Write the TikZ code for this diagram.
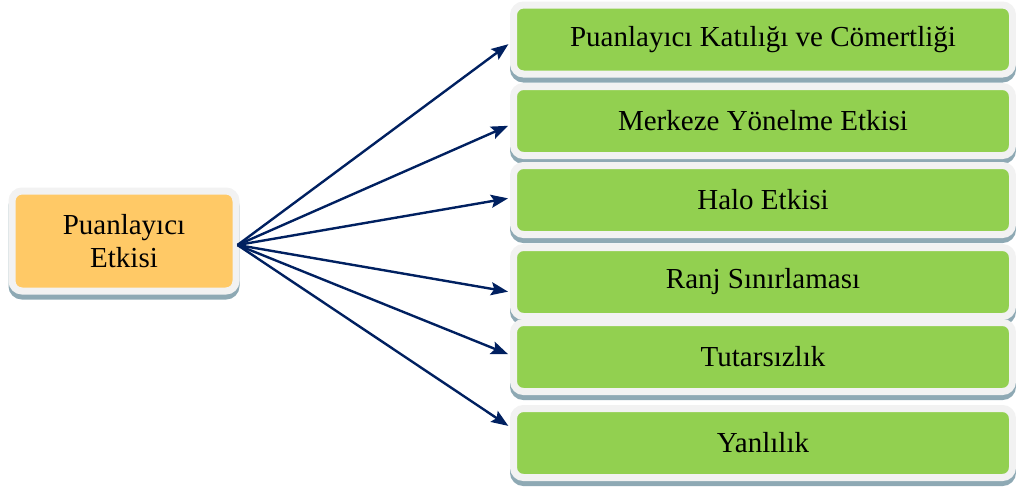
\documentclass[tikz,border=0pt]{standalone}
\usepackage{fontspec}
\setmainfont{Liberation Serif}
\usetikzlibrary{arrows.meta,shadows}
\definecolor{boxgreen}{HTML}{92D050}
\definecolor{boxorange}{HTML}{FFC966}
\definecolor{framegray}{HTML}{F2F2F2}
\definecolor{shadowblue}{HTML}{8EA9B4}
\definecolor{arrownavy}{HTML}{002060}

\tikzset{
  effbox/.style={draw=framegray, line width=7pt, rounded corners=10pt, align=center,
    font=\fontsize{29}{33}\selectfont,
    drop shadow={shadow xshift=0pt, shadow yshift=-5pt, fill=shadowblue,
      draw=shadowblue, line width=7pt, opacity=1}},
  sourcebox/.style={effbox, fill=boxorange, minimum width=224pt, minimum height=100pt},
  typebox/.style={effbox, fill=boxgreen, minimum width=499pt, minimum height=69pt},
  effarrow/.style={draw=arrownavy, line width=2.4pt,
    -{Stealth[length=17pt,width=13pt,inset=3pt]}, shorten >=2pt}
}

\begin{document}
\begin{tikzpicture}[x=1pt,y=-1pt]
\useasboundingbox (0,0) rectangle (1016,490);
\node[sourcebox] (src) at (124,241) {Puanlayıcı\\Etkisi};
\coordinate (hub) at ([xshift=-2pt,yshift=-4pt]src.east);
\foreach \i/\y/\dy/\txt in {1/39.5/-3.5/Puanlayıcı Katılığı ve Cömertliği,
    2/121/-4/Merkeze Yönelme Etkisi, 3/200/2/Halo Etkisi,
    4/282/-10/Ranj Sınırlaması, 5/357/2/Tutarsızlık, 6/443/16/Yanlılık}{
  \node[typebox] (t\i) at (763,\y) {\txt};
  \draw[effarrow] (hub) -- ([yshift=\dy pt]t\i.west);
}
\end{tikzpicture}
\end{document}
